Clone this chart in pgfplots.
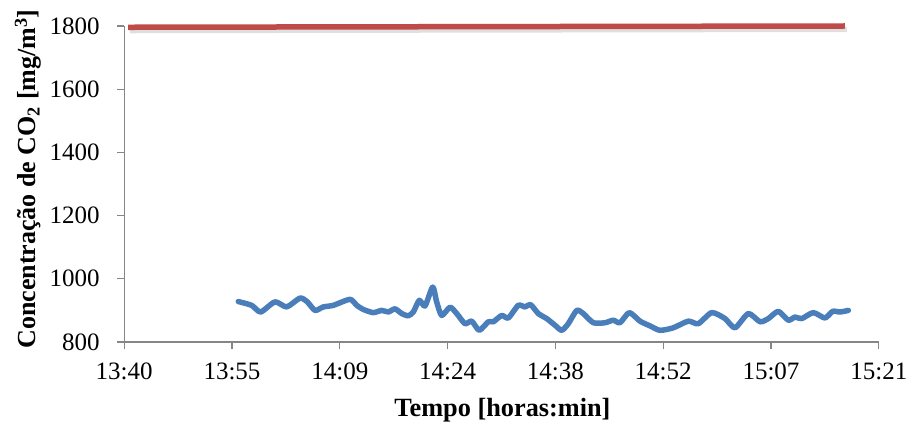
\documentclass[border=0pt]{standalone}
\usepackage{pgfplots}
\pgfplotsset{compat=1.18}
\usepackage{fontspec}
\setmainfont{Liberation Serif}
\definecolor{bl}{RGB}{74,126,187}
\definecolor{rd}{RGB}{190,75,72}
\definecolor{ax}{RGB}{134,134,134}
\begin{document}
\begin{tikzpicture}
\useasboundingbox (-124.2bp,-85bp) rectangle (788.8bp,342bp);
\begin{axis}[
  at={(0,0)}, anchor=south west,
  scale only axis, width=754.6bp, height=316bp,
  xmin=820.8, xmax=921.6, ymin=800, ymax=1800,
  axis lines*=left,
  axis line style={ax, line width=1.2bp},
  xtick={820.8,835.2,849.6,864,878.4,892.8,907.2,921.6},
  xticklabels={13:40,13:55,14:09,14:24,14:38,14:52,15:07,15:21},
  ytick={800,1000,1200,1400,1600,1800},
  /pgf/number format/1000 sep={},
  /pgf/number format/assume math mode=true,
  tick align=outside, major tick length=7bp,
  tick style={ax, line width=1.2bp},
  ticklabel style={font=\fontsize{25bp}{30bp}\selectfont, text=black},
  yticklabel style={xshift=-14bp},
  xticklabel style={yshift=-10bp},
  xlabel={\textbf{Tempo [horas:min]}},
  ylabel={\textbf{Concentração de CO\textsubscript{2} [mg/m\textsuperscript{3}]}},
  every axis x label/.style={at={(axis description cs:0.5,0)}, anchor=center, yshift=-68bp, xshift=1bp, font=\fontsize{26.3bp}{30bp}\selectfont},
  every axis y label/.style={at={(axis description cs:0,0.5)}, anchor=center, xshift=-96bp, yshift=5bp, rotate=90, font=\fontsize{26bp}{30bp}\selectfont},
  clip=false,
]
\addplot[black!18, line width=5bp, opacity=0.7, transform canvas={yshift=-3.5bp, xshift=2bp}] coordinates {(821.31,1796) (917.08,1800)};
\addplot[rd, line width=5.5bp] coordinates {(821.31,1796) (917.08,1800)};
\addplot[bl, line width=5.5bp, smooth, tension=0.4, line join=round, line cap=round] coordinates {
(836.04,928) (837.83,916) (839.03,895) (840.94,927) (842.51,911) (844.28,939)
(845.26,927) (846.29,900) (847.40,911) (848.73,916) (850.96,935) (851.86,916)
(852.74,903) (854.07,893) (855.20,900) (856.08,895) (856.97,905) (857.87,890)
(858.75,883) (859.42,895) (860.22,932) (860.98,914) (862.01,974) (862.54,927)
(863.21,884) (864.32,910) (865.22,890) (866.32,858) (867.22,866) (868.23,837)
(869.44,864) (870.11,864) (871.23,884) (872.11,876) (873.44,916) (874.34,911)
(875.10,918) (876.12,890) (877.24,874) (878.35,853) (879.24,837) (880.12,858)
(881.25,900) (882.13,890) (883.46,861) (885.03,861) (886.13,869) (887.03,861)
(888.27,893) (889.70,866) (891.04,851) (892.37,837) (894.15,845) (896.15,866)
(897.49,858) (899.28,893) (901.06,874) (902.39,845) (904.17,890) (905.73,864)
(906.84,874) (908.18,897) (909.51,869) (910.41,879) (911.30,874) (912.85,893)
(914.41,876) (915.44,897) (916.42,895) (917.53,900)
};
\end{axis}
\end{tikzpicture}
\end{document}
